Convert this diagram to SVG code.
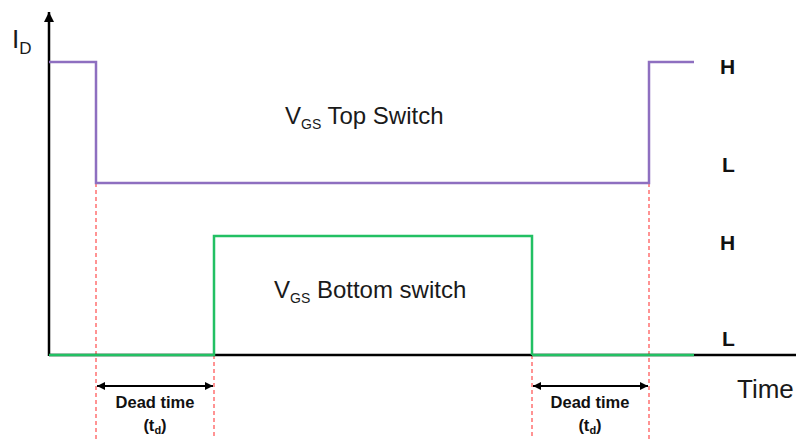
<svg xmlns="http://www.w3.org/2000/svg" width="796" height="439" viewBox="0 0 796 439">
<defs>
<marker id="ah" viewBox="0 0 10 10" refX="10" refY="5" markerWidth="10" markerHeight="8" markerUnits="userSpaceOnUse" orient="auto-start-reverse"><path d="M0,0 L10,5 L0,10 z" fill="#000"/></marker>
<marker id="ax" viewBox="0 0 10 10" refX="10" refY="5" markerWidth="12" markerHeight="10" markerUnits="userSpaceOnUse" orient="auto"><path d="M0,0 L10,5 L0,10 z" fill="#000"/></marker>
</defs>
<style>
.axis{stroke:#000;stroke-width:2.5;fill:none}
.top{stroke:#8e6fc0;stroke-width:2.5;fill:none}
.bot{stroke:#22c063;stroke-width:2.5;fill:none}
.dash{stroke:#ff5a5a;stroke-width:1.3;stroke-dasharray:4 3;fill:none}
.dim{stroke:#000;stroke-width:1.8;fill:none}
.lbl{font-family:"Liberation Sans",Arial,sans-serif;fill:#1a1a1a}
.hl{font-family:"Liberation Sans",Arial,sans-serif;font-weight:bold;font-size:21px;fill:#111}
.dt{font-family:"Liberation Sans",Arial,sans-serif;font-weight:bold;font-size:16.5px;fill:#111;text-anchor:middle}
</style>
<g id="guides">
<line class="dash" x1="96" y1="183" x2="96" y2="439"/>
<line class="dash" x1="214" y1="236" x2="214" y2="439"/>
<line class="dash" x1="532" y1="236" x2="532" y2="439"/>
<line class="dash" x1="649" y1="183" x2="649" y2="439"/>
</g>
<g id="axes">
<line class="axis" x1="49" y1="356" x2="49" y2="12" marker-end="url(#ax)"/>
<line class="axis" x1="49" y1="355" x2="796" y2="355"/>
</g>
<g id="top-switch">
<polyline class="top" points="49,62 96,62 96,183 649,183 649,62 694,62"/>
</g>
<g id="bottom-switch">
<polyline class="bot" points="49,355 214,355 214,236 532,236 532,355"/>
<line class="bot" x1="532" y1="355" x2="694" y2="355"/>
</g>
<g id="connectors">
<line class="dim" x1="97" y1="386" x2="213" y2="386" marker-start="url(#ah)" marker-end="url(#ah)"/>
<line class="dim" x1="533" y1="386" x2="648" y2="386" marker-start="url(#ah)" marker-end="url(#ah)"/>
</g>
<g id="labels">
<text class="lbl" x="12" y="48" font-size="26">I<tspan font-size="17" dy="6">D</tspan></text>
<text class="lbl" x="737" y="398" font-size="26">Time</text>
<text class="lbl" x="285" y="124" font-size="24">V<tspan font-size="14" dy="5">GS</tspan><tspan dy="-5"> Top Switch</tspan></text>
<text class="lbl" x="274" y="298" font-size="24">V<tspan font-size="14" dy="5">GS</tspan><tspan dy="-5"> Bottom switch</tspan></text>
<text class="hl" x="720" y="74">H</text>
<text class="hl" x="722" y="172">L</text>
<text class="hl" x="720" y="250">H</text>
<text class="hl" x="722" y="346">L</text>
<text class="dt" x="155" y="408">Dead time</text>
<text class="dt" x="155" y="431">(t<tspan font-size="11" dy="3">d</tspan><tspan dy="-3">)</tspan></text>
<text class="dt" x="590" y="408">Dead time</text>
<text class="dt" x="590" y="431">(t<tspan font-size="11" dy="3">d</tspan><tspan dy="-3">)</tspan></text>
</g>
</svg>
